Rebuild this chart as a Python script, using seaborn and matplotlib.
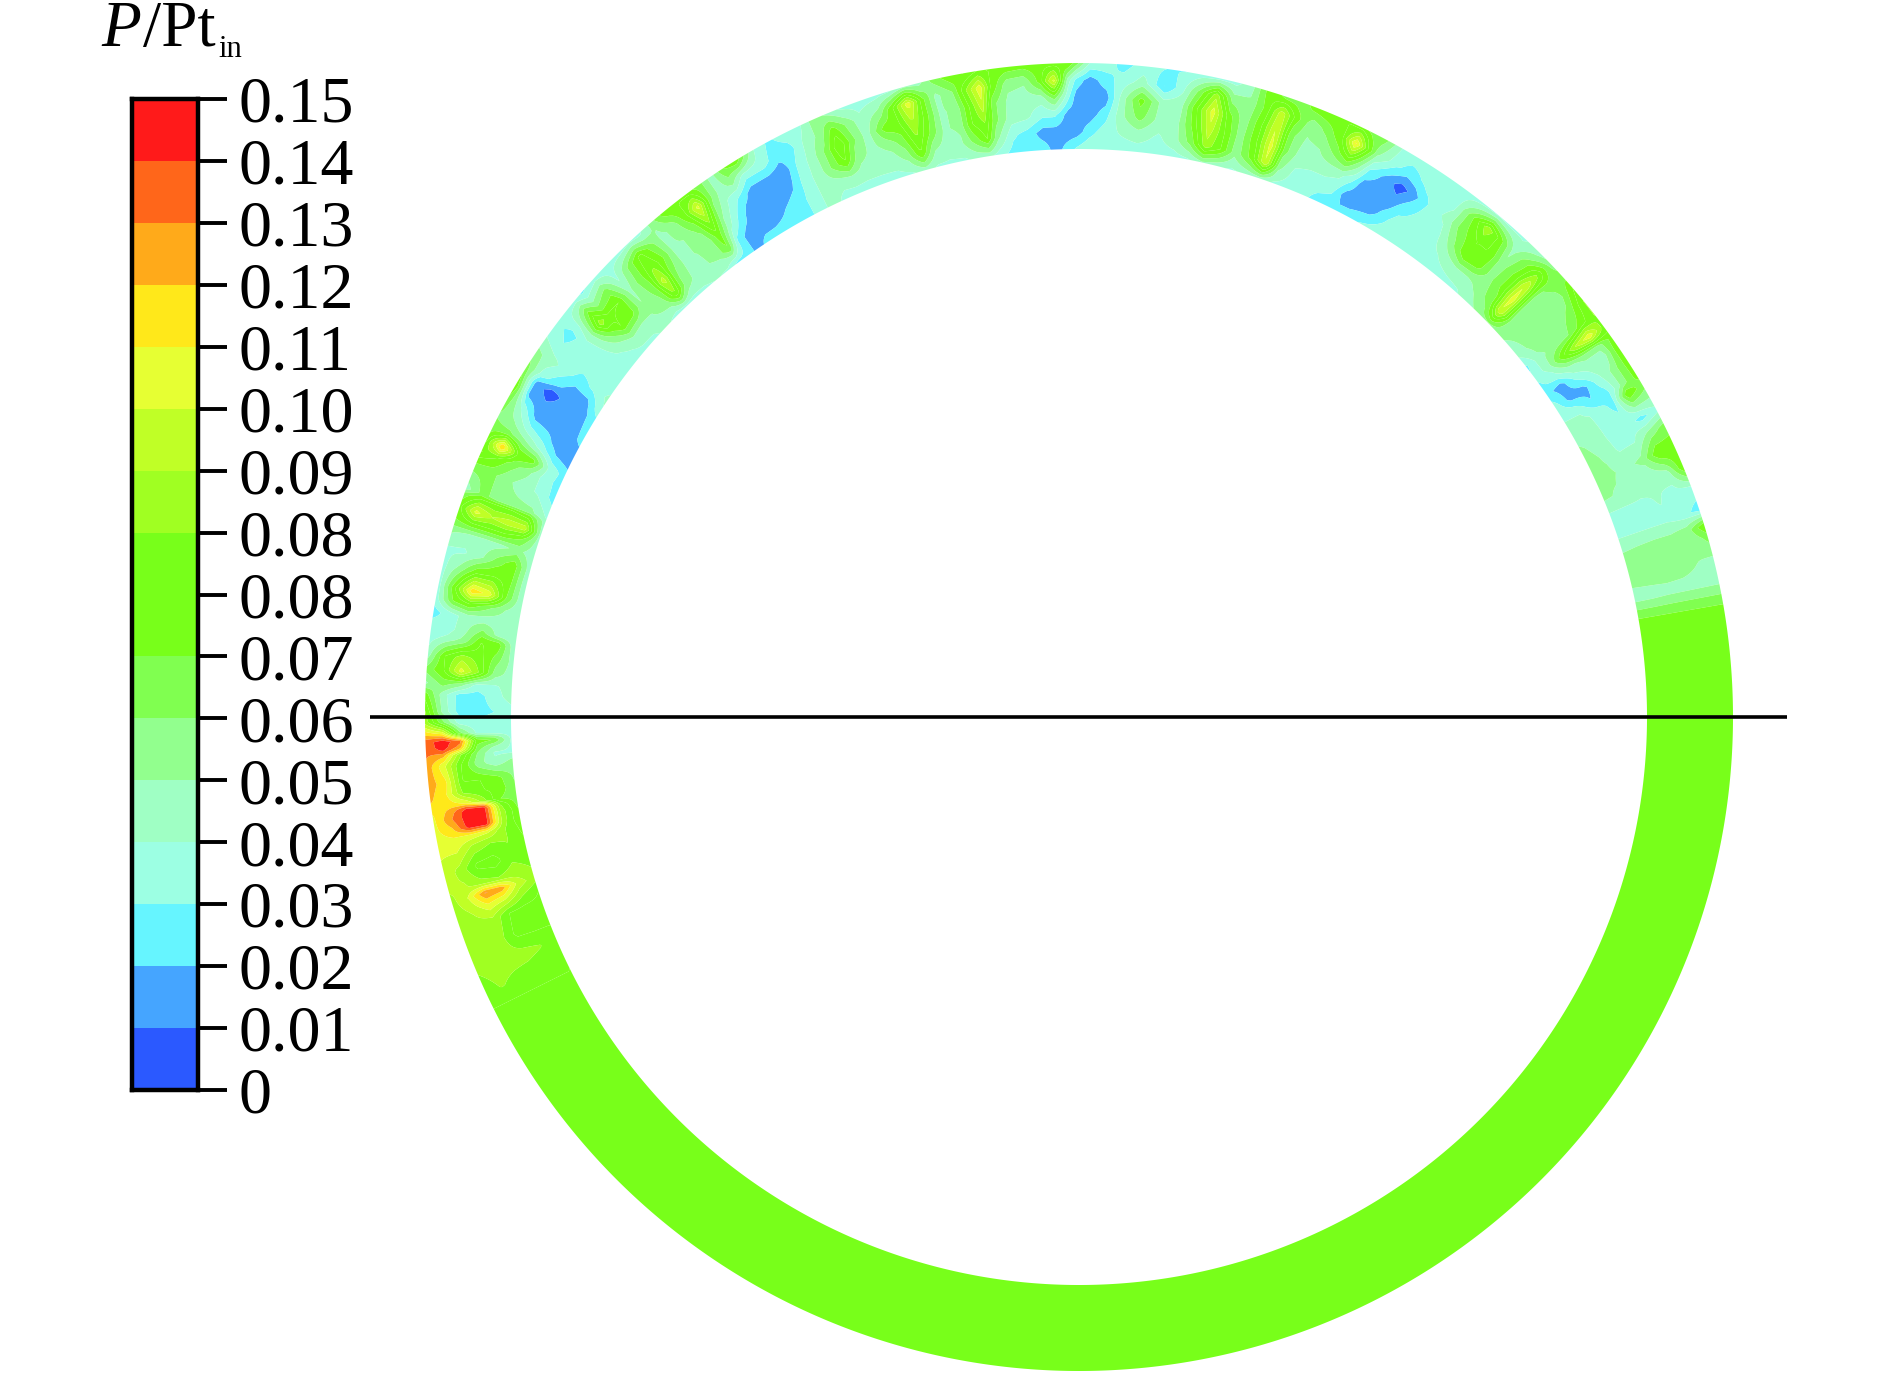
import numpy as np
import matplotlib
matplotlib.use("Agg")
import matplotlib.pyplot as plt
from matplotlib.colors import ListedColormap
import seaborn as sns

# colour bar
tick_labels = ["0", "0.01", "0.02", "0.03", "0.04", "0.05", "0.06", "0.07", "0.08",
               "0.08", "0.09", "0.10", "0.11", "0.12", "0.13", "0.14", "0.15"]
band_colors = ["#2B59FF", "#45A5FF", "#66F5FF", "#9CFFE3", "#9FFFC4", "#92FF8E",
               "#80FF50", "#78FF1A", "#78FF1A", "#A0FF22", "#C0FF26", "#E6FF33",
               "#FFE81A", "#FFAA1A", "#FF661A", "#FF1A1A"]

# P/Pt_in x 1000 read off the ring. each row is one angle (deg, 0 = 3 o'clock, ccw),
# columns go from the inner edge to the outer edge
radial_frac = [0.0, 0.2, 0.4, 0.6, 0.8, 1.0]

theta_right = [0, 9, 10.5, 12, 14, 16, 17, 18.5, 20.5, 22.5, 24.5, 26.5, 28, 30.5, 31.5, 33,
               34.5, 35.5, 36.7, 38, 39.5, 41, 42.5, 43.9, 45.2, 47, 48.5, 50, 52, 53.5, 55]
p_right = [
    [75, 75, 75, 75, 75, 75], [75, 75, 75, 75, 75, 75], [60, 60, 60, 60, 60, 60],
    [43, 43, 44, 44, 44, 44], [50, 51, 51, 50, 47, 45], [50, 51, 52, 50, 48, 60],
    [46, 47, 48, 48, 52, 75], [36, 36, 36, 36, 32, 24], [34, 34, 36, 38, 34, 34],
    [48, 46, 40, 38, 42, 75], [48, 48, 44, 50, 75, 72], [50, 46, 36, 36, 50, 60],
    [48, 44, 34, 34, 24, 34], [42, 40, 34, 24, 75, 60], [36, 36, 20, 25, 50, 70],
    [34, 15, 15, 34, 50, 72], [22, 14, 34, 42, 42, 75], [26, 33, 45, 50, 50, 70],
    [30, 42, 72, 96, 112, 80], [26, 45, 50, 55, 70, 85], [40, 50, 50, 50, 60, 85],
    [45, 51, 50, 48, 51, 75], [50, 55, 51, 51, 60, 60], [55, 105, 110, 105, 85, 50],
    [51, 62, 70, 70, 65, 42], [42, 50, 52, 50, 44, 36], [36, 44, 70, 75, 70, 34],
    [34, 44, 75, 75, 92, 36], [33, 38, 50, 60, 60, 34], [33, 33, 34, 40, 36, 33],
    [33, 33, 34, 34, 33, 33],
]

theta_top_r = [56.5, 57.5, 58.7, 60, 62, 63, 64.2, 65.5, 67, 68.5, 70, 71.4, 72.8, 74.5, 76,
               77.5, 79, 80.5, 82.2, 84.2, 86, 87.5, 89]
p_top_r = [
    [33, 33, 28, 22, 33, 33], [33, 33, 24, 12, 28, 33], [33, 24, 14, 5, 24, 33],
    [30, 14, 12, 13, 30, 33], [24, 12, 14, 28, 48, 60], [22, 14, 30, 50, 75, 60],
    [22, 30, 40, 72, 116, 70], [24, 33, 42, 60, 75, 75], [33, 33, 42, 48, 60, 75],
    [33, 36, 42, 46, 50, 72], [36, 50, 60, 60, 70, 60], [42, 105, 108, 105, 100, 60],
    [40, 70, 75, 75, 70, 75], [36, 50, 51, 50, 48, 45], [40, 75, 75, 70, 52, 34],
    [45, 90, 100, 108, 90, 33], [36, 60, 70, 75, 60, 33], [33, 44, 46, 44, 36, 28],
    [33, 36, 42, 42, 18, 28], [33, 42, 60, 70, 42, 33], [33, 38, 44, 42, 33, 24],
    [36, 33, 24, 14, 24, 33], [36, 24, 14, 12, 14, 36],
]

theta_top_l = [90.2, 91, 92.3, 93.5, 95, 96.5, 98, 99, 100.2, 101.5, 103, 104.3, 105.6, 107,
               108.3, 110, 111.5, 112.8, 114, 115.5, 117, 118.4, 119.8, 121.8, 123, 124.3,
               125.5, 126.8, 128, 129.5, 131]
p_top_l = [
    [30, 14, 14, 13, 24, 60], [24, 13, 14, 30, 42, 75], [14, 14, 30, 60, 108, 70],
    [24, 14, 30, 42, 70, 72], [24, 24, 40, 42, 48, 70], [24, 30, 42, 44, 50, 72],
    [33, 50, 60, 60, 75, 75], [40, 75, 85, 100, 110, 75], [40, 60, 75, 75, 85, 65],
    [36, 46, 48, 48, 55, 72], [36, 42, 46, 46, 44, 60], [36, 48, 65, 70, 70, 42],
    [42, 75, 85, 95, 110, 45], [36, 50, 62, 72, 75, 36], [34, 42, 50, 70, 50, 34],
    [33, 42, 44, 42, 40, 33], [33, 42, 51, 60, 55, 36], [33, 44, 75, 85, 70, 45],
    [33, 42, 60, 60, 50, 52], [42, 42, 42, 42, 40, 34], [33, 33, 33, 30, 24, 33],
    [24, 24, 18, 12, 22, 26], [24, 20, 13, 14, 33, 36], [24, 13, 12, 14, 33, 75],
    [24, 12, 13, 24, 50, 66], [14, 14, 26, 36, 42, 42], [24, 24, 42, 51, 60, 60],
    [24, 66, 72, 88, 108, 70], [36, 50, 50, 60, 75, 75], [38, 46, 47, 47, 51, 72],
    [36, 44, 46, 46, 44, 50],
]

theta_left = [132.4, 133.6, 134.8, 136.5, 138, 139.5, 140.5, 142, 143, 144.5, 146, 147.5, 148.4,
              149.5, 151, 152.5, 153.6, 154.9, 156, 157.5, 159.5, 160, 161.2, 162.3, 163.5, 165,
              166.5, 168.3, 169.5, 170.7, 172, 172.9, 174.5, 175.8, 177, 178, 179.5]
p_left = [
    [33, 55, 60, 70, 62, 33], [33, 85, 100, 85, 78, 36], [33, 55, 60, 65, 62, 33],
    [40, 47, 47, 44, 36, 33], [36, 42, 70, 75, 60, 33], [34, 46, 75, 76, 50, 26],
    [34, 40, 60, 90, 66, 33], [33, 36, 40, 44, 36, 33], [33, 33, 33, 33, 24, 33],
    [33, 33, 33, 33, 30, 38], [40, 30, 24, 33, 42, 50], [36, 14, 13, 22, 33, 60],
    [26, 12, 12, 5, 14, 66], [24, 12, 12, 10, 14, 75], [22, 12, 13, 14, 36, 62],
    [14, 12, 24, 33, 48, 55], [14, 20, 36, 50, 60, 60], [24, 36, 70, 75, 126, 72],
    [24, 33, 50, 60, 75, 85], [24, 36, 42, 50, 60, 60], [36, 50, 51, 51, 60, 42],
    [42, 70, 75, 75, 75, 60], [42, 100, 100, 95, 108, 72], [42, 66, 75, 75, 75, 66],
    [40, 50, 44, 42, 42, 48], [40, 72, 60, 44, 36, 36], [38, 70, 75, 72, 50, 34],
    [38, 66, 110, 120, 75, 33], [38, 48, 60, 75, 65, 33], [38, 42, 42, 42, 33, 24],
    [38, 42, 60, 45, 33, 33], [38, 72, 75, 50, 40, 33], [42, 60, 80, 90, 75, 42],
    [42, 51, 85, 108, 75, 60], [42, 36, 33, 52, 60, 45], [42, 33, 24, 24, 42, 70],
    [33, 28, 24, 24, 45, 85],
]

theta_low = [180.5, 181.5, 182.2, 182.9, 183.5, 184.4, 186, 187, 188, 188.6, 189.3, 190.2, 191,
             192, 193.9, 195.5, 196.5, 197.8, 199, 201, 203, 205, 206.5, 230, 270, 310, 350]
p_low = [
    [33, 33, 30, 33, 60, 90], [33, 33, 36, 60, 110, 118], [36, 66, 72, 135, 146, 136],
    [36, 45, 62, 125, 146, 134], [36, 36, 55, 85, 125, 132], [51, 40, 50, 75, 105, 128],
    [55, 70, 75, 75, 115, 128], [58, 72, 76, 82, 112, 125], [60, 66, 90, 112, 118, 120],
    [62, 85, 146, 146, 125, 112], [66, 90, 146, 146, 130, 110], [66, 90, 146, 146, 120, 110],
    [72, 85, 105, 110, 112, 108], [75, 85, 85, 92, 106, 105], [80, 82, 70, 72, 90, 100],
    [85, 90, 85, 88, 95, 95], [88, 100, 128, 132, 104, 90], [75, 85, 100, 108, 95, 88],
    [72, 72, 75, 92, 90, 88], [75, 72, 72, 88, 88, 85], [75, 85, 88, 88, 88, 85],
    [75, 78, 80, 82, 85, 80], [75, 75, 75, 75, 75, 75], [75, 75, 75, 75, 75, 75],
    [75, 75, 75, 75, 75, 75], [75, 75, 75, 75, 75, 75], [75, 75, 75, 75, 75, 75],
]

sns.set_theme(style="white")
plt.rcParams['font.family'] = ['Liberation Serif', 'DejaVu Serif']

levels = np.linspace(0, 0.15, 17)

fig = plt.figure(figsize=(18.89, 13.75), dpi=100)
ax = fig.add_axes([0, 0, 1, 1])
ax.set_xlim(0, 1889)
ax.set_ylim(1375, 0)
ax.axis("off")

# ring
cx, cy, r_in, r_out = 1079, 717, 568, 654
theta = np.array(theta_right + theta_top_r + theta_top_l + theta_left + theta_low + [360.0])
table = np.array(p_right + p_top_r + p_top_l + p_left + p_low + [p_right[0]]) / 1000

# finer mesh, only so the circle edges stay round
theta_fine = np.arange(0, 360.25, 0.25)
frac_fine = np.linspace(0, 1, 41)
by_theta = np.array([np.interp(theta_fine, theta, table[:, i]) for i in range(len(radial_frac))])
grid = np.array([np.interp(frac_fine, radial_frac, by_theta[:, j]) for j in range(len(theta_fine))])

rad = np.radians(theta_fine)[:, None]
r = r_in + (r_out - r_in) * frac_fine[None, :]
x = cx + r * np.cos(rad)
y = cy - r * np.sin(rad)
ax.contourf(x, y, grid, levels=levels, colors=band_colors, antialiased=True)

ax.plot([370, 1787], [717, 717], color="black", lw=2.6, solid_capstyle="butt")

# title
ax.text(101, 46, "P", fontsize=47, style="italic", color="black", va="baseline")
ax.text(143, 46, "/Pt", fontsize=47, color="black", va="baseline")
ax.text(218, 57, "in", fontsize=22, color="black", va="baseline")

# colour bar
cax = fig.add_axes([132 / 1889, 1 - 1090 / 1375, 66 / 1889, (1090 - 99) / 1375])
mids = ((levels[:-1] + levels[1:]) / 2)[::-1].reshape(-1, 1)
sns.heatmap(mids, cmap=ListedColormap(band_colors), vmin=0, vmax=0.15, cbar=False,
            xticklabels=False, yticklabels=False, ax=cax)
cax.set_yticks(np.arange(17))
cax.set_yticklabels(tick_labels[::-1], ha="left", color="black")
cax.tick_params(axis="y", left=False, right=True, labelleft=False, labelright=True,
                length=21, width=2.8, pad=8, labelsize=47.5, color="black", labelrotation=0)
for side in cax.spines.values():
    side.set_visible(True)
    side.set_linewidth(3.2)
    side.set_color("black")

fig.savefig("out.png", dpi=100)
